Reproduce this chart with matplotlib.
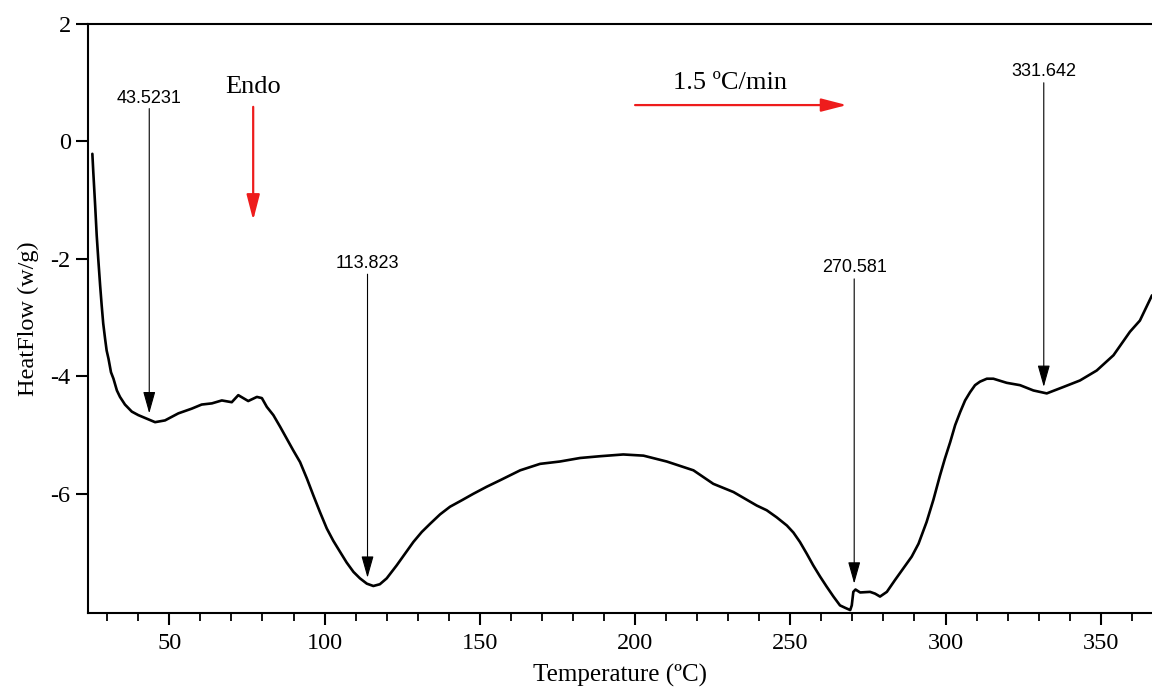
import numpy as np
import matplotlib
matplotlib.use("Agg")
import matplotlib.pyplot as plt
from matplotlib.ticker import MultipleLocator, FixedLocator

plt.rcParams['axes.unicode_minus'] = False
plt.rcParams['font.family'] = ['Liberation Serif', 'DejaVu Serif']

# DSC trace
temperature = [25.2, 25.5, 26.1, 26.6, 27.1, 27.7, 28.2, 28.7, 29.3, 29.8,
               30.4, 31.2, 32.0, 33.1, 34.1, 35.7, 37.9, 40.0, 42.7, 45.4,
               48.6, 52.9, 57.2, 60.4, 63.7, 66.9, 70.1, 72.2, 75.4, 78.2,
               79.8, 81.4, 83.5, 85.7, 87.8, 89.9, 92.1, 94.3, 96.4, 98.5,
               100.7, 102.8, 105.0, 107.1, 109.3, 111.4, 113.6, 115.7, 117.8, 120.0,
               123.2, 125.9, 128.6, 131.3, 134.0, 137.2, 140.4, 144.2, 147.9, 152.2,
               156.5, 163.0, 169.4, 175.8, 182.3, 188.7, 196.2, 202.7, 210.2, 218.8,
               225.2, 231.7, 239.2, 242.4, 245.6, 248.9, 251.0, 253.1, 255.3, 257.4,
               259.6, 261.7, 263.9, 266.0, 267.6, 269.3, 269.8, 270.3, 271.0, 272.5,
               275.7, 277.3, 278.9, 281.1, 283.7, 286.4, 289.1, 291.3, 293.9, 296.1,
               298.2, 299.8, 301.5, 303.1, 304.7, 306.3, 307.9, 309.5, 311.1, 313.3,
               315.4, 319.7, 324.0, 328.3, 332.6, 338.0, 343.3, 348.7, 354.1, 359.4,
               362.6, 366.5]
heatflow = [-0.21, -0.52, -1.09, -1.60, -2.00, -2.45, -2.79, -3.10, -3.36, -3.56,
            -3.70, -3.93, -4.04, -4.24, -4.35, -4.48, -4.60, -4.66, -4.72, -4.78,
            -4.75, -4.63, -4.55, -4.48, -4.46, -4.41, -4.44, -4.32, -4.42, -4.35,
            -4.37, -4.52, -4.66, -4.86, -5.06, -5.26, -5.46, -5.74, -6.03, -6.31,
            -6.59, -6.80, -6.99, -7.17, -7.33, -7.44, -7.53, -7.57, -7.54, -7.44,
            -7.22, -7.02, -6.82, -6.65, -6.51, -6.35, -6.22, -6.11, -6.00, -5.88,
            -5.77, -5.60, -5.49, -5.45, -5.39, -5.36, -5.33, -5.35, -5.45, -5.60,
            -5.83, -5.97, -6.20, -6.28, -6.40, -6.54, -6.66, -6.82, -7.02, -7.22,
            -7.41, -7.58, -7.75, -7.90, -7.94, -7.98, -7.90, -7.67, -7.63, -7.68,
            -7.67, -7.70, -7.75, -7.67, -7.47, -7.27, -7.07, -6.85, -6.48, -6.10,
            -5.69, -5.40, -5.12, -4.83, -4.61, -4.41, -4.27, -4.15, -4.09, -4.04,
            -4.04, -4.11, -4.15, -4.24, -4.29, -4.18, -4.07, -3.90, -3.64, -3.24,
            -3.05, -2.62]

# peak labels: temperature, arrow tip, arrow start, label y
peak_temps = [43.5231, 113.823, 270.581, 331.642]
peak_tips = [-4.63, -7.43, -7.53, -4.18]
peak_starts = [0.56, -2.26, -2.34, 1.00]
peak_label_y = [0.73, -2.08, -2.14, 1.20]
peak_labels = ['43.5231', '113.823', '270.581', '331.642']

fig = plt.figure(figsize=(11.52, 6.87), dpi=100)
ax = fig.add_axes([0.0764, 0.1077, 0.9236, 0.8573])

ax.plot(temperature, heatflow, color='black', lw=1.9,
        solid_joinstyle='round', solid_capstyle='round')

ax.set_xlim(23.8, 366.5)
ax.set_ylim(-8.03, 2.0)
ax.xaxis.set_major_locator(FixedLocator([50, 100, 150, 200, 250, 300, 350]))
ax.xaxis.set_minor_locator(MultipleLocator(10))
ax.yaxis.set_major_locator(FixedLocator([-6, -4, -2, 0, 2]))

for s in ['left', 'bottom', 'top']:
    ax.spines[s].set_linewidth(1.5)
ax.spines['right'].set_visible(False)
ax.tick_params(axis='both', which='major', direction='out', length=8.5,
               width=1.5, labelsize=17.5, pad=4)
ax.tick_params(axis='x', which='minor', direction='out', length=5.5, width=1.3)
ax.tick_params(axis='x', pad=6)

ax.set_xlabel('Temperature (ºC)', fontsize=18, labelpad=7)
ax.set_ylabel('HeatFlow (w/g)', fontsize=17.5, labelpad=8)

for t, tip, st, ly, lab in zip(peak_temps, peak_tips, peak_starts, peak_label_y, peak_labels):
    ax.annotate('', xy=(t, tip), xytext=(t, st),
                arrowprops=dict(arrowstyle='-|>,head_length=1.35,head_width=0.38',
                                color='black', lw=0.8, shrinkA=0, shrinkB=0,
                                mutation_scale=10))
    ax.text(t, ly, lab, ha='center', va='center', fontsize=13,
            family=['Liberation Sans', 'DejaVu Sans'])

# endothermic direction and heating rate
ax.annotate('', xy=(77.0, -1.34), xytext=(77.0, 0.59),
            arrowprops=dict(arrowstyle='-|>,head_length=1.55,head_width=0.4',
                            color='#ee1c1c', lw=1.6, shrinkA=0, shrinkB=0,
                            mutation_scale=10))
ax.text(77.0, 0.93, 'Endo', ha='center', va='center', fontsize=19)

ax.annotate('', xy=(268.2, 0.62), xytext=(200.0, 0.62),
            arrowprops=dict(arrowstyle='-|>,head_length=1.55,head_width=0.4',
                            color='#ee1c1c', lw=1.6, shrinkA=0, shrinkB=0,
                            mutation_scale=10))
ax.text(230.5, 1.0, '1.5 ºC/min', ha='center', va='center', fontsize=19)

fig.savefig('out.png', dpi=100)
